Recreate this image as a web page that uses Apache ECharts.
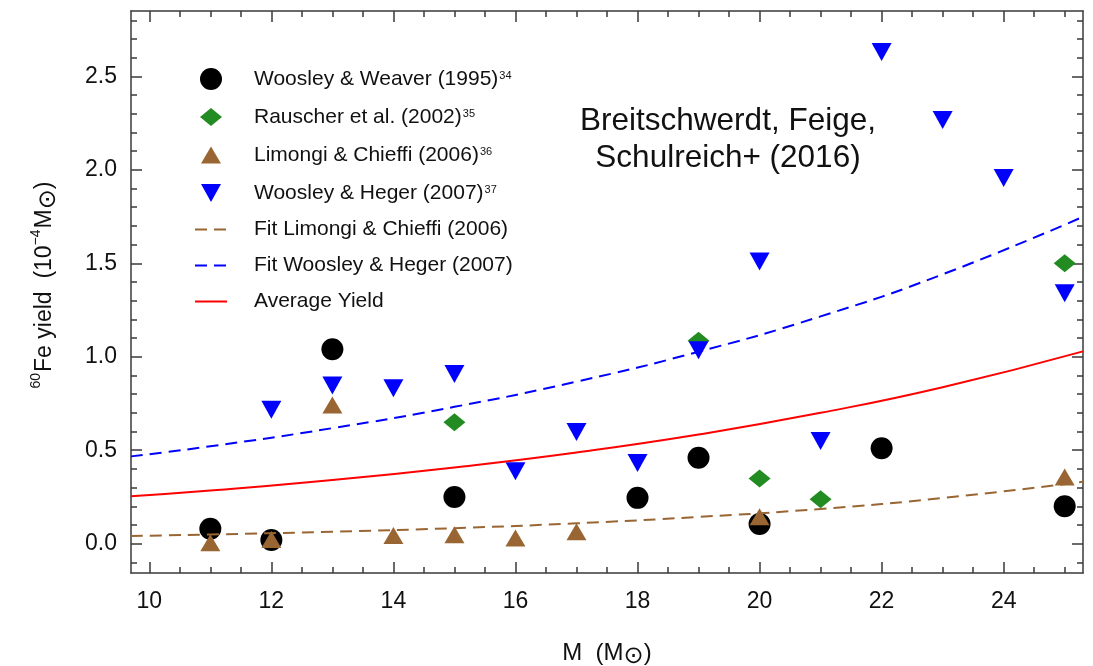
<!DOCTYPE html>
<html>
<head>
<meta charset="utf-8">
<script src="https://cdn.jsdelivr.net/npm/echarts@6/dist/echarts.min.js"></script>
<style>
  html, body { margin: 0; padding: 0; background: #ffffff; }
  #chart { width: 1093px; height: 666px; }
</style>
</head>
<body>
<div id="chart"></div>
<script>
// 60Fe yields (10^-4 solar masses) against progenitor mass (solar masses)

// Woosley & Weaver (1995)
const wwMass = [11, 12, 13, 15, 18, 19, 20, 22, 25];
const wwYield = [0.08, 0.02, 1.04, 0.25, 0.245, 0.46, 0.105, 0.51, 0.20];

// Rauscher et al. (2002)
const rauMass = [15, 19, 20, 21, 25];
const rauYield = [0.65, 1.085, 0.348, 0.238, 1.50];

// Limongi & Chieffi (2006)
const lcMass = [11, 12, 13, 14, 15, 16, 17, 20, 25];
const lcYield = [0.005, 0.022, 0.742, 0.044, 0.048, 0.03, 0.064, 0.144, 0.357];

// Woosley & Heger (2007)
const whMass = [12, 13, 14, 15, 16, 17, 18, 19, 20, 21, 22, 23, 24, 25];
const whYield = [0.717, 0.846, 0.831, 0.908, 0.387, 0.598, 0.432, 1.035, 1.51, 0.549, 2.63, 2.267, 1.957, 1.34];

// Fitted curves and the average yield, sampled along the mass range
const curveMass = [9.7, 11, 13, 15, 17, 19, 21, 23, 25.3];
const fitLC = [0.041, 0.049, 0.064, 0.083, 0.109, 0.143, 0.186, 0.244, 0.331];
const fitWH = [0.467, 0.521, 0.618, 0.732, 0.867, 1.027, 1.216, 1.441, 1.749];
const avgYield = [0.253, 0.284, 0.340, 0.408, 0.488, 0.584, 0.700, 0.837, 1.029];

// Axis ticks
const xTickLabels = [10, 12, 14, 16, 18, 20, 22, 24];
const yTickLabels = [0, 0.5, 1.0, 1.5, 2.0, 2.5];

const X_MIN = 9.7, X_MAX = 25.3;
const Y_MIN = -0.157, Y_MAX = 2.85;

const FONT = '"Liberation Sans", Arial, Helvetica, sans-serif';
const SYM_FONT = '"DejaVu Sans", sans-serif';
const FRAME = '#3a3a3a';
const INK = '#111111';

const zip = (xs, ys) => xs.map((x, i) => [x, ys[i]]);

// minor tick positions
const xMinor = [];
for (let i = 20; i <= 51; i++) {
  const v = i / 2;
  if (v >= X_MIN && v <= X_MAX && xTickLabels.indexOf(v) < 0) xMinor.push(v);
}
const yMinor = [];
for (let i = -1; i <= 28; i++) {
  if (i % 5 !== 0) yMinor.push(i / 10);
}

function axis(kind, pos, ticks, len, withLine, labels) {
  const a = {
    type: 'value',
    position: pos,
    min: kind === 'x' ? X_MIN : Y_MIN,
    max: kind === 'x' ? X_MAX : Y_MAX,
    axisLine: { show: withLine, onZero: false, lineStyle: { color: FRAME, width: 1.5 } },
    axisTick: { show: true, inside: true, length: len, customValues: ticks, lineStyle: { color: FRAME, width: 1.5 } },
    splitLine: { show: false },
    axisLabel: { show: false }
  };
  if (labels) {
    a.axisLabel = {
      show: true,
      customValues: labels,
      fontFamily: FONT,
      fontSize: 23,
      color: INK,
      margin: kind === 'x' ? 17 : 14,
      formatter: kind === 'x' ? (v => String(v)) : (v => v.toFixed(1))
    };
  }
  return a;
}

const xMain = axis('x', 'bottom', xTickLabels, 11, true, xTickLabels);
xMain.name = '{n|M  (M}{sun|⊙}{n|)}';
xMain.nameLocation = 'middle';
xMain.nameGap = 64;
xMain.nameTextStyle = {
  fontFamily: FONT, color: INK,
  rich: {
    n: { fontSize: 24, lineHeight: 32, verticalAlign: 'middle', fontFamily: FONT, color: INK },
    sun: { fontSize: 24, lineHeight: 32, verticalAlign: 'bottom', padding: [9, 0, 0, 0], fontFamily: SYM_FONT, color: INK }
  }
};

const yMain = axis('y', 'left', yTickLabels, 11, true, yTickLabels);
yMain.name = '{sup|60}{n|Fe yield  (10}{sup|−4}{n|M}{sun|⊙}{n|)}';
yMain.nameLocation = 'middle';
yMain.nameGap = 70;
yMain.nameRotate = 90;
yMain.nameTextStyle = {
  fontFamily: FONT, color: INK,
  padding: [0, 0, 0, 14],
  rich: {
    n: { fontSize: 23, lineHeight: 32, verticalAlign: 'middle', fontFamily: FONT, color: INK },
    sup: { fontSize: 14, lineHeight: 32, verticalAlign: 'top', padding: [0, 1, 0, 0], fontFamily: FONT, color: INK },
    sun: { fontSize: 24, lineHeight: 32, verticalAlign: 'bottom', padding: [9, 0, 0, 0], fontFamily: SYM_FONT, color: INK }
  }
};

const refs = {
  'Woosley & Weaver (1995)': '34',
  'Rauscher et al. (2002)': '35',
  'Limongi & Chieffi (2006)': '36',
  'Woosley & Heger (2007)': '37'
};

// Legend icons: the leading moves pad each glyph into a 22x22 box so that
// the shapes keep the same proportions as the plotted markers.
const ICON_DIAMOND = 'path://M0,0M22,22M0,11L11,2L22,11L11,20Z';
const ICON_UP = 'path://M0,0M22,22M1,19.5L21,19.5L11,2.5Z';
const ICON_DOWN = 'path://M0,0M22,22M1,2L21,2L11,20Z';
const hiddenSymbol = { opacity: 0 };

const legendData = [
  { name: 'Woosley & Weaver (1995)', icon: 'circle' },
  { name: 'Rauscher et al. (2002)', icon: ICON_DIAMOND },
  { name: 'Limongi & Chieffi (2006)', icon: ICON_UP },
  { name: 'Woosley & Heger (2007)', icon: ICON_DOWN },
  { name: 'Fit Limongi & Chieffi (2006)', itemStyle: hiddenSymbol },
  { name: 'Fit Woosley & Heger (2007)', itemStyle: hiddenSymbol },
  { name: 'Average Yield', itemStyle: hiddenSymbol }
];

const chart = echarts.init(document.getElementById('chart'), null, { renderer: 'canvas' });

chart.setOption({
  animation: false,
  backgroundColor: '#ffffff',
  grid: { left: 131, right: 10, top: 11, bottom: 93, containLabel: false, outerBoundsMode: 'none' },
  xAxis: [
    xMain,
    axis('x', 'bottom', xMinor, 6, false, null),
    axis('x', 'top', xTickLabels, 11, true, null),
    axis('x', 'top', xMinor, 6, false, null)
  ],
  yAxis: [
    yMain,
    axis('y', 'left', yMinor, 6, false, null),
    axis('y', 'right', yTickLabels, 11, true, null),
    axis('y', 'right', yMinor, 6, false, null)
  ],
  legend: {
    orient: 'vertical',
    left: 194,
    top: 67,
    padding: 0,
    itemWidth: 32,
    itemHeight: 22,
    itemGap: 15,
    selectedMode: false,
    data: legendData,
    formatter: name => refs[name] ? '{n|' + name + '}{sup|' + refs[name] + '}' : '{n|' + name + '}',
    textStyle: {
      fontFamily: FONT,
      fontSize: 21,
      color: INK,
      padding: [0, 0, 0, 22],
      rich: {
        n: { fontFamily: FONT, fontSize: 21, lineHeight: 24, verticalAlign: 'middle', color: INK },
        sup: { fontFamily: FONT, fontSize: 11, lineHeight: 24, verticalAlign: 'top', padding: [3, 0, 0, 1], color: INK }
      }
    }
  },
  graphic: [{
    type: 'text',
    x: 728,
    y: 103,
    style: {
      text: 'Breitschwerdt, Feige,\nSchulreich+ (2016)',
      align: 'center',
      verticalAlign: 'top',
      lineHeight: 37,
      font: '31.5px ' + FONT,
      fill: INK
    }
  }],
  series: [
    {
      name: 'Fit Limongi & Chieffi (2006)', type: 'line', smooth: true,
      symbol: 'none', showSymbol: false,
      data: zip(curveMass, fitLC),
      lineStyle: { color: '#996633', width: 2, type: [12, 7] },
      itemStyle: { color: '#996633' }
    },
    {
      name: 'Fit Woosley & Heger (2007)', type: 'line', smooth: true,
      symbol: 'none', showSymbol: false,
      data: zip(curveMass, fitWH),
      lineStyle: { color: '#0000ff', width: 2, type: [12, 7] },
      itemStyle: { color: '#0000ff' }
    },
    {
      name: 'Average Yield', type: 'line', smooth: true,
      symbol: 'none', showSymbol: false,
      data: zip(curveMass, avgYield),
      lineStyle: { color: '#ff0000', width: 2 },
      itemStyle: { color: '#ff0000' }
    },
    {
      name: 'Woosley & Weaver (1995)', type: 'scatter',
      symbol: 'circle', symbolSize: 22,
      data: zip(wwMass, wwYield),
      itemStyle: { color: '#000000', opacity: 1 }
    },
    {
      name: 'Rauscher et al. (2002)', type: 'scatter',
      symbol: 'diamond', symbolSize: [22, 18],
      data: zip(rauMass, rauYield),
      itemStyle: { color: '#228b22', opacity: 1 }
    },
    {
      name: 'Limongi & Chieffi (2006)', type: 'scatter',
      symbol: 'triangle', symbolSize: [20, 17],
      data: zip(lcMass, lcYield),
      itemStyle: { color: '#996633', opacity: 1 }
    },
    {
      name: 'Woosley & Heger (2007)', type: 'scatter',
      symbol: 'triangle', symbolSize: [20, 18], symbolRotate: 180,
      data: zip(whMass, whYield),
      itemStyle: { color: '#0000ff', opacity: 1 }
    }
  ]
});
</script>
</body>
</html>
